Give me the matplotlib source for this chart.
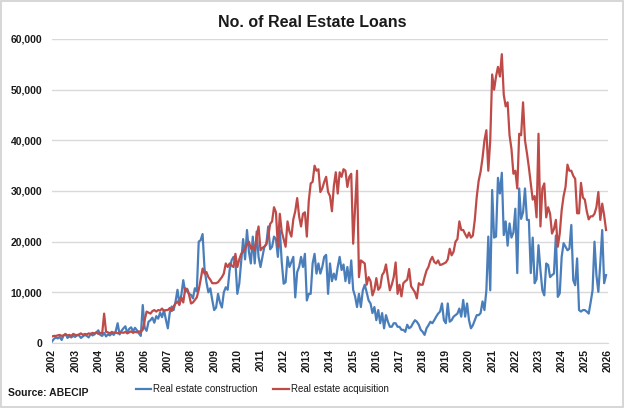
import numpy as np
import matplotlib
matplotlib.use("Agg")
import matplotlib.pyplot as plt
from matplotlib.patches import Rectangle
from matplotlib.ticker import FuncFormatter

plt.rcParams['font.family'] = ['Liberation Sans', 'DejaVu Sans']

# monthly values, thousands of loans, Jan 2002 .. Dec 2025
construction_k = [
    0.3, 0.8, 1.1, 0.9, 1.2, 0.6, 1.5, 1.8, 1.0, 1.3, 1.1, 1.4,        # 2002
    1.2, 1.6, 1.5, 1.0, 1.3, 1.6, 1.4, 1.1, 1.8, 1.5, 1.7, 2.1,        # 2003
    2.5, 1.6, 1.4, 2.0, 1.3, 1.7, 1.5, 1.9, 1.6, 2.3, 3.9, 1.7,        # 2004
    2.4, 2.9, 3.3, 2.0, 2.8, 3.1, 2.3, 3.0, 2.5, 1.9, 1.4, 7.5,        # 2005
    3.0, 2.4, 4.2, 4.5, 5.0, 4.0, 5.3, 4.8, 6.0, 5.1, 6.5, 4.6,        # 2006
    2.9, 6.0, 7.2, 6.5, 8.2, 10.5, 7.8, 9.5, 12.4, 10.0, 10.7, 9.7,    # 2007
    9.5, 8.8, 10.8, 10.2, 20.0, 20.3, 21.5, 14.7, 12.0, 10.0, 10.8, 8.5,  # 2008
    6.5, 7.0, 9.7, 8.0, 7.0, 10.0, 11.0, 10.5, 14.4, 16.3, 17.0, 16.0,    # 2009
    9.7, 11.7, 16.0, 20.5, 16.5, 22.3, 18.0, 15.7, 21.0, 15.7, 22.0, 17.0,  # 2010
    15.0, 17.0, 19.0, 19.5, 23.0, 18.5, 19.0, 21.0, 20.5, 17.0, 22.3, 16.0,  # 2011
    11.7, 12.0, 17.0, 15.0, 16.0, 17.0, 9.0, 14.0, 15.0, 17.0, 15.0, 17.6,   # 2012
    8.4, 9.7, 9.7, 15.7, 17.6, 13.7, 15.7, 13.7, 15.0, 17.0, 17.4, 9.7,      # 2013
    15.7, 12.2, 13.7, 12.5, 15.0, 17.0, 14.4, 15.5, 12.2, 15.0, 11.8, 16.3,  # 2014
    10.5, 9.2, 7.1, 9.7, 7.1, 10.4, 11.5, 10.0, 8.4, 7.8, 5.9, 7.1,          # 2015
    4.5, 6.5, 3.9, 5.9, 2.9, 5.5, 4.2, 3.2, 3.2, 3.9, 3.9, 3.2,              # 2016
    3.2, 2.6, 2.6, 2.2, 3.6, 2.9, 3.2, 3.9, 4.5, 4.2, 3.6, 2.6,              # 2017
    2.2, 1.6, 2.9, 3.5, 4.2, 3.9, 4.5, 5.2, 5.8, 6.2, 7.8, 4.5,              # 2018
    3.9, 7.8, 4.2, 4.5, 5.2, 5.5, 5.8, 6.8, 5.2, 8.5, 5.2, 7.8,              # 2019
    4.5, 2.9, 3.5, 4.5, 5.5, 5.5, 5.9, 8.2, 6.5, 10.4, 21.0, 10.4,           # 2020
    30.2, 20.8, 21.0, 32.6, 29.5, 33.6, 21.3, 24.0, 19.2, 23.6, 20.8, 21.8,  # 2021
    26.5, 13.8, 30.5, 24.5, 25.8, 30.5, 24.3, 24.3, 13.8, 20.8, 11.8, 12.6,  # 2022
    19.3, 14.4, 10.4, 9.4, 15.7, 15.4, 13.0, 13.4, 13.7, 21.2, 9.1, 9.8,     # 2023
    17.0, 19.7, 19.0, 18.3, 18.6, 23.3, 12.4, 11.4, 16.7, 6.5, 6.2, 6.5,     # 2024
    6.5, 6.2, 5.8, 8.0, 10.4, 20.0, 13.4, 10.1, 15.7, 22.3, 11.8, 13.4,      # 2025
]

acquisition_k = [
    1.3, 1.4, 1.4, 1.5, 1.6, 1.4, 1.5, 1.7, 1.5, 1.6, 1.4, 1.8,        # 2002
    1.6, 1.5, 1.7, 1.9, 1.6, 1.8, 1.7, 1.9, 1.8, 2.0, 1.9, 2.1,        # 2003
    1.8, 2.0, 1.9, 5.8, 2.2, 2.1, 1.9, 2.2, 2.0, 2.1, 1.9, 2.0,        # 2004
    2.1, 2.0, 2.2, 1.9, 2.1, 2.3, 2.0, 2.2, 2.1, 2.3, 2.2, 2.6,        # 2005
    4.5, 6.2, 6.0, 5.8, 6.3, 6.5, 6.2, 6.5, 6.4, 6.8, 6.3, 6.5,        # 2006
    6.5, 6.9, 6.3, 7.2, 7.8, 8.2, 7.5, 9.0, 8.0, 10.8, 10.5, 9.5,      # 2007
    7.8, 8.0, 8.5, 9.0, 10.5, 12.5, 14.7, 13.7, 14.0, 13.0, 12.5, 11.8,    # 2008
    11.8, 11.8, 12.0, 12.5, 13.0, 13.7, 15.7, 15.0, 15.7, 15.3, 15.0, 17.6,  # 2009
    15.0, 16.5, 17.6, 18.0, 18.6, 19.5, 20.0, 18.6, 19.0, 18.3, 21.0, 23.0,  # 2010
    18.3, 18.8, 19.0, 19.5, 21.0, 23.5, 24.0, 26.8, 25.8, 19.0, 25.5, 22.0,  # 2011
    20.5, 19.0, 24.0, 22.0, 21.0, 24.4, 26.0, 28.6, 25.0, 23.0, 25.5, 25.8,  # 2012
    21.0, 28.0, 31.5, 31.8, 35.0, 34.0, 34.3, 29.8, 30.5, 31.8, 32.8, 29.8,  # 2013
    29.0, 26.0, 31.0, 33.7, 29.5, 33.7, 32.8, 34.3, 34.0, 30.8, 32.8, 33.4,  # 2014
    19.6, 27.0, 34.0, 13.0, 16.3, 16.0, 15.7, 11.5, 13.0, 12.2, 9.4, 10.5,   # 2015
    12.8, 10.5, 11.0, 13.4, 14.0, 15.5, 12.8, 10.4, 11.5, 13.0, 15.9, 9.7,   # 2016
    11.5, 9.2, 11.8, 12.2, 12.5, 14.6, 11.2, 10.6, 10.0, 8.8, 11.8, 11.5,    # 2017
    11.5, 13.0, 14.3, 15.0, 16.3, 17.0, 16.0, 15.7, 16.3, 15.4, 15.5, 15.7,  # 2018
    15.9, 16.5, 18.6, 17.3, 18.0, 20.0, 20.5, 24.0, 22.3, 22.3, 21.5, 20.8,  # 2019
    21.8, 20.8, 21.2, 24.3, 28.8, 32.0, 33.8, 36.5, 40.0, 42.0, 34.0, 40.0,  # 2020
    53.0, 50.0, 52.6, 54.5, 52.6, 57.0, 49.0, 46.7, 47.5, 41.0, 38.3, 33.4,  # 2021
    34.0, 30.5, 41.3, 41.0, 47.5, 40.0, 37.5, 34.7, 31.5, 28.3, 29.0, 24.8,  # 2022
    41.3, 23.0, 30.5, 31.5, 24.8, 26.8, 25.5, 21.6, 22.5, 24.3, 19.0, 21.6,  # 2023
    26.2, 29.0, 30.8, 35.2, 34.0, 34.0, 33.0, 32.4, 25.6, 25.6, 31.6, 28.7,  # 2024
    28.3, 26.0, 24.4, 25.0, 25.0, 25.5, 26.8, 29.8, 24.3, 27.5, 25.2, 22.3,  # 2025
]

years = list(range(2002, 2027))

construction = np.array(construction_k) * 1000
acquisition = np.array(acquisition_k) * 1000
t = 2002 + np.arange(len(construction)) / 12.0

fig = plt.figure(figsize=(6.24, 4.08), dpi=100)
ax = fig.add_axes([52 / 624, 65 / 408, 556 / 624, 304 / 408])

ax.plot(t, construction, color='#4a7ebb', lw=1.6, label='Real estate construction')
ax.plot(t, acquisition, color='#be4b48', lw=1.6, label='Real estate acquisition')

ax.set_xlim(2002, 2026)
ax.set_ylim(0, 60000)
ax.set_yticks(np.arange(0, 60001, 10000))
ax.yaxis.set_major_formatter(FuncFormatter(lambda v, p: f'{int(v):,}'))
ax.set_xticks(years)
ax.set_xticklabels([str(y) for y in years], rotation=90)
for lab in ax.get_xticklabels() + ax.get_yticklabels():
    lab.set_fontweight('bold')
    lab.set_fontsize(7.5)
    lab.set_color('#1a1a1a')

ax.grid(axis='y', color='#d9d9d9', lw=1)
ax.set_axisbelow(True)
for s in ['top', 'right', 'left']:
    ax.spines[s].set_visible(False)
ax.spines['bottom'].set_color('#d9d9d9')
ax.tick_params(axis='y', length=0, pad=7)
ax.tick_params(axis='x', length=0, pad=4)

fig.text(0.5, 0.945, 'No. of Real Estate Loans', ha='center', va='center',
         fontsize=11.5, fontweight='bold', color='#1a1a1a')
fig.text(8 / 624, 1 - 393 / 408, 'Source: ABECIP', ha='left', va='center',
         fontsize=7.5, fontweight='bold', color='#1a1a1a')

leg = fig.legend(loc='center', bbox_to_anchor=(262 / 624, 1 - 389 / 408), ncol=2,
                 frameon=False, fontsize=7, handlelength=1.6, columnspacing=1.6,
                 handletextpad=0.2)
for txt in leg.get_texts():
    txt.set_color('#1a1a1a')

fig.patches.append(Rectangle((0.002, 0.002), 0.996, 0.996, transform=fig.transFigure,
                             fill=False, edgecolor='#d0d0d0', lw=1.2))

fig.savefig('out.png', dpi=100)
